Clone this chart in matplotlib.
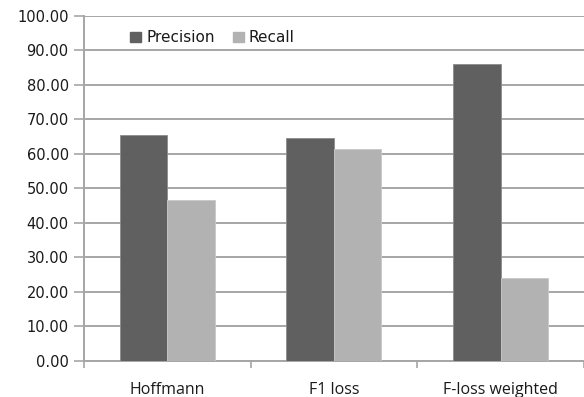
import numpy as np
from matplotlib import pyplot
from matplotlib import patches

METHODS = ['Hoffmann', 'F1 loss', 'F-loss weighted']
PRECISION = [65.6, 64.5, 86.1]
RECALL = [46.6, 61.3, 24.1]
Y_TICKS = [0, 10, 20, 30, 40, 50, 60, 70, 80, 90, 100]

PRECISION_COLOR = '#606060'
RECALL_COLOR = '#b2b2b2'
GRID_COLOR = '#a6a6a6'
TEXT_COLOR = '#1a1a1a'


def main():
  fig = pyplot.figure(figsize=(5.84, 3.97), dpi=100)
  ax = fig.add_axes([0.1438, 0.0914, 0.8562, 0.8683])

  x = np.arange(len(METHODS))
  width = 0.285
  ax.bar(x - width / 2, PRECISION, width, color=PRECISION_COLOR,
         edgecolor='#8c8c8c', linewidth=0.6, zorder=3)
  ax.bar(x + width / 2, RECALL, width, color=RECALL_COLOR,
         edgecolor='#c8c8c8', linewidth=0.6, zorder=3)

  ax.set_xlim(-0.5, len(METHODS) - 0.5)
  ax.set_ylim(0, 100)
  ax.set_yticks(Y_TICKS)
  ax.set_yticklabels(['%.2f' % v for v in Y_TICKS], fontsize=10.5,
                     color=TEXT_COLOR, family='DejaVu Sans')
  ax.yaxis.grid(True, color=GRID_COLOR, linewidth=1.4, zorder=0)
  ax.set_axisbelow(True)

  # Category ticks sit on the group boundaries, labels in the middle.
  ax.set_xticks(np.arange(len(METHODS) + 1) - 0.5)
  ax.set_xticklabels([])
  ax.set_xticks(x, minor=True)
  ax.set_xticklabels(METHODS, minor=True, fontsize=11.5, color=TEXT_COLOR,
                     family='Open Sans')
  ax.tick_params(axis='x', which='minor', length=0, pad=15)
  ax.tick_params(axis='x', which='major', length=5, width=1.2,
                 color=GRID_COLOR)
  ax.tick_params(axis='y', length=7, width=1.2, color=GRID_COLOR, pad=4)

  for side in ('top', 'right'):
    ax.spines[side].set_visible(False)
  for side in ('left', 'bottom'):
    ax.spines[side].set_color(GRID_COLOR)
    ax.spines[side].set_linewidth(1.4)

  handles = [patches.Patch(color=PRECISION_COLOR),
             patches.Patch(color=RECALL_COLOR)]
  fig.legend(handles, ['Precision', 'Recall'], loc='center left',
             bbox_to_anchor=(0.199, 0.905), ncol=2, frameon=False,
             fontsize=11, handlelength=0.7, handleheight=0.7,
             handletextpad=0.35, columnspacing=1.2, labelcolor=TEXT_COLOR)

  fig.savefig('out.png', dpi=100)


if __name__ == '__main__':
  main()
